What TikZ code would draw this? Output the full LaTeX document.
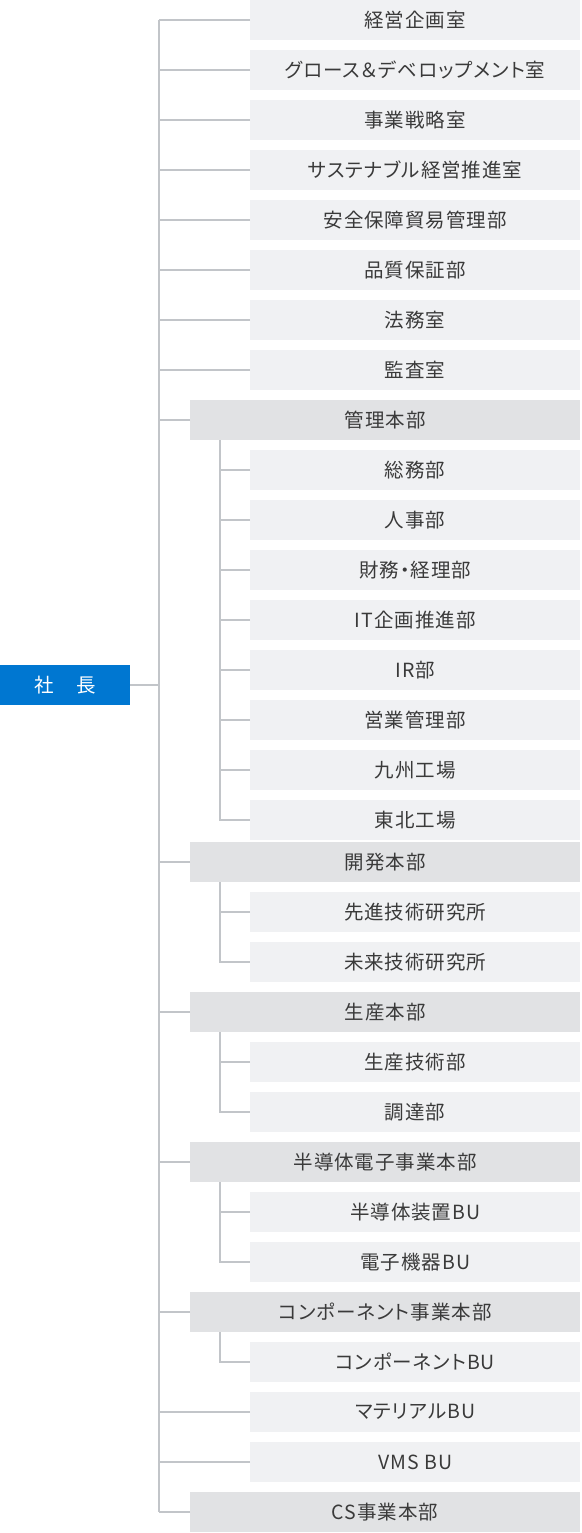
\documentclass[tikz,border=0pt]{standalone}
\usepackage{fontspec}
\newfontfamily\jp[LetterSpace=5,RawFeature={+palt}]{Noto Sans CJK JP}
\newfontfamily\jpplain{Noto Sans CJK JP}
\definecolor{leaffill}{HTML}{F0F1F3}
\definecolor{secfill}{HTML}{E1E2E4}
\definecolor{linec}{HTML}{C2C5C9}
\definecolor{txt}{HTML}{3A3A3A}
\definecolor{presblue}{HTML}{0077D1}
\tikzset{
  leaf/.style={rectangle, fill=leaffill, minimum width=330pt, minimum height=40pt, anchor=west, inner sep=0pt, text=txt, font=\jp\fontsize{19.5}{22}\selectfont},
  sec/.style={rectangle, fill=secfill, minimum width=390pt, minimum height=40pt, anchor=west, inner sep=0pt, text=txt, font=\jp\fontsize{19.5}{22}\selectfont},
  pres/.style={rectangle, fill=presblue, minimum width=130pt, minimum height=40pt, anchor=west, inner sep=0pt, text=white, font=\jpplain\fontsize{19.5}{22}\selectfont},
  conn/.style={draw=linec, line width=1.6pt}
}
\begin{document}
\begin{tikzpicture}[x=1pt,y=-1pt]
\useasboundingbox (0,0) rectangle (581,1533);
\coordinate (trunk) at (159,685);
\coordinate (sub) at (220,685);
% president
\node[pres] (pres) at (0,685) {社\hspace{1.15em}長};
% top leaves
\node[leaf] (l1) at (250,20) {経営企画室};
\node[leaf] (l2) at (250,70) {グロース＆デベロップメント室};
\node[leaf] (l3) at (250,120) {事業戦略室};
\node[leaf] (l4) at (250,170) {サステナブル経営推進室};
\node[leaf] (l5) at (250,220) {安全保障貿易管理部};
\node[leaf] (l6) at (250,270) {品質保証部};
\node[leaf] (l7) at (250,320) {法務室};
\node[leaf] (l8) at (250,370) {監査室};
% 管理本部
\node[sec] (s1) at (190,420) {管理本部};
\node[leaf] (a1) at (250,470) {総務部};
\node[leaf] (a2) at (250,520) {人事部};
\node[leaf] (a3) at (250,570) {財務・経理部};
\node[leaf] (a4) at (250,620) {IT企画推進部};
\node[leaf] (a5) at (250,670) {IR部};
\node[leaf] (a6) at (250,720) {営業管理部};
\node[leaf] (a7) at (250,770) {九州工場};
\node[leaf] (a8) at (250,820) {東北工場};
% 開発本部
\node[sec] (s2) at (190,862) {開発本部};
\node[leaf] (b1) at (250,912) {先進技術研究所};
\node[leaf] (b2) at (250,962) {未来技術研究所};
% 生産本部
\node[sec] (s3) at (190,1012) {生産本部};
\node[leaf] (c1) at (250,1062) {生産技術部};
\node[leaf] (c2) at (250,1112) {調達部};
% 半導体電子事業本部
\node[sec] (s4) at (190,1162) {半導体電子事業本部};
\node[leaf] (d1) at (250,1212) {半導体装置BU};
\node[leaf] (d2) at (250,1262) {電子機器BU};
% コンポーネント事業本部
\node[sec] (s5) at (190,1312) {コンポーネント事業本部};
\node[leaf] (e1) at (250,1362) {コンポーネントBU};
% bottom
\node[leaf] (l9) at (250,1412) {マテリアルBU};
\node[leaf] (l10) at (250,1462) {VMS BU};
\node[sec] (s6) at (190,1512) {CS事業本部};
% trunk
\draw[conn] (l1.west -| trunk) -- (s6.west -| trunk);
\draw[conn] (pres.east) -- (pres.east -| trunk);
\foreach \n in {l1,l2,l3,l4,l5,l6,l7,l8,s1,s2,s3,s4,s5,l9,l10,s6}
  \draw[conn] (\n.west) -- (\n.west -| trunk);
% sub trees
\draw[conn] (s1.south -| sub) |- (a8.west);
\foreach \n in {a1,a2,a3,a4,a5,a6,a7}
  \draw[conn] (\n.west) -- (\n.west -| sub);
\draw[conn] (s2.south -| sub) |- (b2.west);
\draw[conn] (b1.west) -- (b1.west -| sub);
\draw[conn] (s3.south -| sub) |- (c2.west);
\draw[conn] (c1.west) -- (c1.west -| sub);
\draw[conn] (s4.south -| sub) |- (d2.west);
\draw[conn] (d1.west) -- (d1.west -| sub);
\draw[conn] (s5.south -| sub) |- (e1.west);
\end{tikzpicture}
\end{document}
